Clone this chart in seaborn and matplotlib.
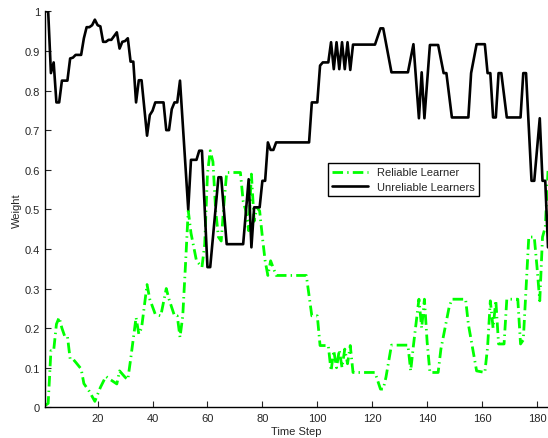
import matplotlib
matplotlib.use('Agg')
import matplotlib.pyplot as plt
import pandas as pd
import seaborn as sns

# vertices of the two weight curves (time step, weight)
UNREL_STEP = [1, 2, 3, 4, 5, 6, 7, 9, 10, 11, 12, 14, 15, 16, 17, 18, 19, 20,
    21, 22, 23, 24, 25, 27, 28, 29, 30, 31, 32, 33, 34, 35, 36, 38, 39, 40,
    41, 44, 45, 46, 47, 48, 49, 50, 53, 54, 56, 57, 58, 60, 61, 64, 65, 67,
    73, 75, 76, 77, 79, 80, 81, 82, 83, 84, 85, 97, 98, 100, 101, 102, 104,
    105, 106, 107, 108, 109, 110, 111, 112, 113, 121, 123, 124, 127, 133,
    135, 137, 138, 139, 141, 144, 146, 147, 149, 155, 156, 158, 161, 162,
    163, 164, 165, 166, 167, 169, 174, 175, 176, 178, 179, 181, 182, 183, 184]
UNREL_W = [1.0, 1.0, 0.844, 0.871, 0.77, 0.77, 0.825, 0.825, 0.881, 0.883,
    0.89, 0.89, 0.932, 0.96, 0.96, 0.965, 0.979, 0.965, 0.962, 0.923, 0.923,
    0.928, 0.928, 0.947, 0.906, 0.923, 0.925, 0.932, 0.873, 0.873, 0.77,
    0.826, 0.826, 0.686, 0.738, 0.749, 0.77, 0.77, 0.70, 0.70, 0.753, 0.77,
    0.77, 0.825, 0.50, 0.625, 0.625, 0.648, 0.648, 0.354, 0.354, 0.581,
    0.581, 0.412, 0.412, 0.576, 0.404, 0.505, 0.505, 0.572, 0.572, 0.669,
    0.65, 0.65, 0.669, 0.669, 0.77, 0.77, 0.863, 0.871, 0.871, 0.922, 0.854,
    0.922, 0.854, 0.922, 0.854, 0.922, 0.852, 0.916, 0.916, 0.957, 0.957,
    0.846, 0.846, 0.917, 0.73, 0.846, 0.73, 0.915, 0.915, 0.844, 0.844,
    0.732, 0.732, 0.844, 0.917, 0.917, 0.844, 0.844, 0.732, 0.732, 0.844,
    0.844, 0.732, 0.732, 0.844, 0.844, 0.572, 0.572, 0.73, 0.572, 0.572,
    0.404]

REL_STEP = [1, 2, 3, 4, 5, 6, 7, 8, 9, 10, 11, 12, 14, 15, 17, 19, 21, 23,
    24, 27, 28, 30, 31, 32, 34, 35, 36, 38, 39, 41, 43, 45, 46, 48, 49, 50,
    51, 52, 53, 54, 56, 58, 59, 60, 61, 62, 63, 64, 65, 66, 67, 72, 73, 74,
    75, 76, 77, 78, 79, 80, 81, 82, 83, 85, 96, 98, 100, 101, 104, 105, 106,
    107, 108, 109, 110, 111, 112, 113, 121, 123, 124, 125, 127, 133, 134,
    135, 137, 138, 139, 140, 141, 144, 145, 148, 149, 154, 155, 158, 161,
    162, 163, 164, 165, 166, 168, 169, 173, 174, 175, 176, 177, 179, 180,
    181, 182, 183, 184]
REL_W = [0.005, 0.01, 0.143, 0.143, 0.21, 0.227, 0.20, 0.18, 0.18, 0.122,
    0.122, 0.114, 0.097, 0.06, 0.04, 0.015, 0.05, 0.078, 0.073, 0.059, 0.092,
    0.076, 0.07, 0.12, 0.227, 0.185, 0.2, 0.31, 0.273, 0.235, 0.231, 0.30,
    0.273, 0.231, 0.231, 0.177, 0.23, 0.36, 0.497, 0.44, 0.37, 0.354, 0.412,
    0.589, 0.648, 0.62, 0.496, 0.43, 0.42, 0.513, 0.593, 0.593, 0.52, 0.496,
    0.446, 0.589, 0.47, 0.505, 0.496, 0.43, 0.37, 0.333, 0.37, 0.333, 0.333,
    0.231, 0.231, 0.156, 0.156, 0.092, 0.143, 0.1, 0.145, 0.1, 0.147, 0.11,
    0.156, 0.088, 0.088, 0.046, 0.046, 0.076, 0.157, 0.157, 0.092, 0.156,
    0.273, 0.2, 0.273, 0.164, 0.088, 0.088, 0.147, 0.253, 0.273, 0.273, 0.21,
    0.092, 0.088, 0.152, 0.269, 0.2, 0.27, 0.16, 0.16, 0.273, 0.273, 0.16,
    0.17, 0.299, 0.43, 0.43, 0.354, 0.269, 0.43, 0.455, 0.597]

X_TICKS = [20, 40, 60, 80, 100, 120, 140, 160, 180]
Y_TICKS = [0, 0.1, 0.2, 0.3, 0.4, 0.5, 0.6, 0.7, 0.8, 0.9, 1]
Y_LABS = ['0', '0.1', '0.2', '0.3', '0.4', '0.5', '0.6', '0.7', '0.8', '0.9',
    '1']

rel_df = pd.DataFrame({'step': REL_STEP, 'weight': REL_W})
unrel_df = pd.DataFrame({'step': UNREL_STEP, 'weight': UNREL_W})

sns.set_style('ticks')
plt.rcParams['font.family'] = ['Liberation Sans', 'DejaVu Sans']

fig = plt.figure(figsize=(5.48, 4.39), dpi=100)
ax = fig.add_axes([0.0829, 0.0699, 0.9171, 0.902])

sns.lineplot(x='step', y='weight', data=rel_df, ax=ax, color='#00ff00',
    lw=2, label='Reliable Learner')
ax.lines[-1].set_linestyle((0, (3.8, 1.5, 0.5, 1.5)))
sns.lineplot(x='step', y='weight', data=unrel_df, ax=ax, color='black',
    lw=1.9, label='Unreliable Learners')

ax.set_xlim(1, 184)
ax.set_ylim(0, 1)
ax.set_xticks(X_TICKS)
ax.set_yticks(Y_TICKS)
ax.set_yticklabels(Y_LABS)
ax.tick_params(axis='both', direction='in', labelsize=8, length=4,
    width=0.8, pad=4)
for s in ['top', 'right']:
    ax.spines[s].set_visible(False)
for s in ['left', 'bottom']:
    ax.spines[s].set_linewidth(1)
    ax.spines[s].set_color('black')
ax.set_xlabel('Time Step', fontsize=8, labelpad=2)
ax.set_ylabel('Weight', fontsize=8, labelpad=2)

leg = ax.legend(loc='upper left', bbox_to_anchor=(0.562, 0.617), fontsize=8,
    fancybox=False, framealpha=1, edgecolor='black', handlelength=3.2,
    borderaxespad=0, borderpad=0.4, labelspacing=0.4)
leg.get_frame().set_linewidth(1)

fig.savefig('out.png', dpi=100)
